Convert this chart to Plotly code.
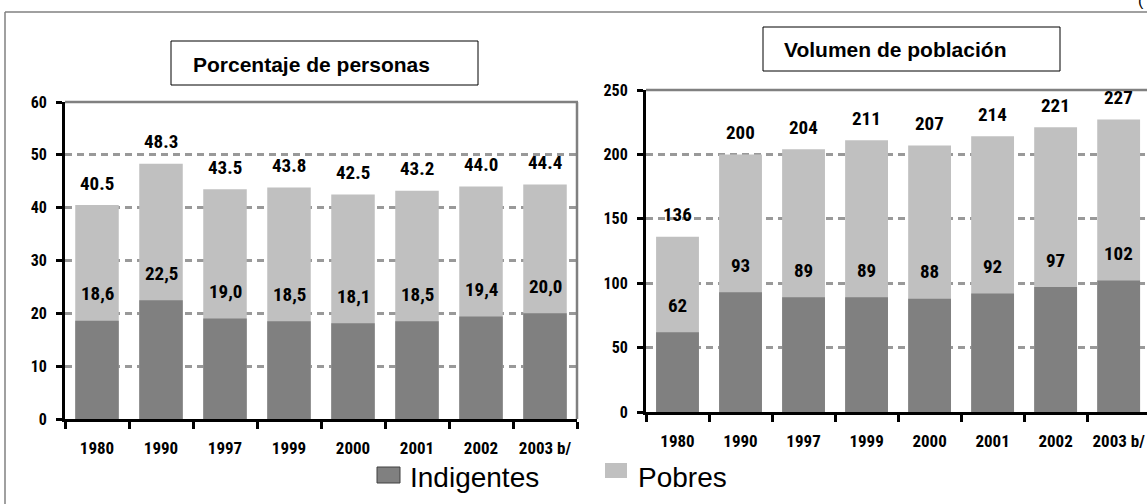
import plotly.graph_objects as go

W, H = 1147, 504

categories = ["1980", "1990", "1997", "1999", "2000", "2001", "2002", "2003 b/"]
pct_pobres = [40.5, 48.3, 43.5, 43.8, 42.5, 43.2, 44.0, 44.4]
pct_indigentes = [18.6, 22.5, 19.0, 18.5, 18.1, 18.5, 19.4, 20.0]
vol_pobres = [136, 200, 204, 211, 207, 214, 221, 227]
vol_indigentes = [62, 93, 89, 89, 88, 92, 97, 102]

C_POB = "#c0c0c0"
C_IND = "#808080"
NARROW = "Liberation Sans Narrow, Noto Sans Condensed, Roboto Condensed, DejaVu Sans Condensed, sans-serif"
SANS = "Liberation Sans, Arial, sans-serif"


def px(x):
    return x / W


def py(y):
    return 1 - y / H


fig = go.Figure()

for xa, ya, pob, ind in [("x", "y", pct_pobres, pct_indigentes),
                         ("x2", "y2", vol_pobres, vol_indigentes)]:
    fig.add_trace(go.Bar(x=categories, y=pob, name="Pobres", marker_color=C_POB,
                         marker_line_width=0, width=0.68, xaxis=xa, yaxis=ya,
                         showlegend=False))
    fig.add_trace(go.Bar(x=categories, y=ind, name="Indigentes", marker_color=C_IND,
                         marker_line_width=0, width=0.68, xaxis=xa, yaxis=ya,
                         showlegend=False))

annotations = []
lab_font = dict(family=NARROW, size=19, color="black", weight=700)
for k, (p, i) in enumerate(zip(pct_pobres, pct_indigentes)):
    annotations.append(dict(x=k, y=p, xref="x", yref="y", text=f"{p:.1f}",
                            xanchor="center", yanchor="middle",
                            showarrow=False, yshift=22, font=lab_font))
    annotations.append(dict(x=k, y=i, xref="x", yref="y",
                            text=f"{i:.1f}".replace(".", ","),
                            xanchor="center", yanchor="middle",
                            showarrow=False, yshift=27, font=lab_font))
for k, (p, i) in enumerate(zip(vol_pobres, vol_indigentes)):
    annotations.append(dict(x=k, y=p, xref="x2", yref="y2", text=f"{p}",
                            xanchor="center", yanchor="middle",
                            showarrow=False, yshift=22, font=lab_font))
    annotations.append(dict(x=k, y=i, xref="x2", yref="y2", text=f"{i}",
                            xanchor="center", yanchor="middle",
                            showarrow=False, yshift=27, font=lab_font))

# titles in boxes
annotations.append(dict(x=px(311), y=py(64), xref="paper", yref="paper",
                        xanchor="center", yanchor="middle",
                        text="<b>Porcentaje de personas</b>", showarrow=False,
                        font=dict(family=SANS, size=21, color="black")))
annotations.append(dict(x=px(895), y=py(50), xref="paper", yref="paper",
                        xanchor="center", yanchor="middle",
                        text="<b>Volumen de población</b>", showarrow=False,
                        font=dict(family=SANS, size=21, color="black")))
# legend texts
annotations.append(dict(x=px(408), y=py(477), xref="paper", yref="paper",
                        xanchor="left", yanchor="middle", text="Indigentes", showarrow=False,
                        font=dict(family=SANS, size=28, color="black")))
annotations.append(dict(x=px(636), y=py(477), xref="paper", yref="paper",
                        xanchor="left", yanchor="middle", text="Pobres", showarrow=False,
                        font=dict(family=SANS, size=28, color="black")))
annotations.append(dict(x=px(1136), y=py(0), xref="paper", yref="paper",
                        xanchor="left", yanchor="middle", text="(", showarrow=False,
                        font=dict(family=SANS, size=16, color="black")))

shapes = [
    # outer frame
    dict(type="line", xref="paper", yref="paper", x0=px(5), x1=1.01, y0=py(12), y1=py(12),
         line=dict(color="#808080", width=1.5)),
    dict(type="line", xref="paper", yref="paper", x0=px(5), x1=px(5), y0=py(12), y1=-0.01,
         line=dict(color="#808080", width=1.5)),
    # title boxes
    dict(type="rect", xref="paper", yref="paper", x0=px(171), x1=px(478), y0=py(85), y1=py(41),
         line=dict(color="black", width=1), fillcolor="white", layer="below"),
    dict(type="rect", xref="paper", yref="paper", x0=px(763), x1=px(1060), y0=py(71), y1=py(27),
         line=dict(color="black", width=1), fillcolor="white", layer="below"),
    # plot borders (top/right gray)
    dict(type="line", xref="paper", yref="paper", x0=px(65), x1=px(578), y0=py(102), y1=py(102),
         line=dict(color="#808080", width=2.5)),
    dict(type="line", xref="paper", yref="paper", x0=px(577), x1=px(577), y0=py(102), y1=py(419),
         line=dict(color="#808080", width=2.5)),
    dict(type="line", xref="paper", yref="paper", x0=px(646), x1=1.01, y0=py(90), y1=py(90),
         line=dict(color="#808080", width=2.5)),
    # legend swatches
    dict(type="rect", xref="paper", yref="paper", x0=px(377), x1=px(400), y0=py(483), y1=py(467),
         line=dict(color="#404040", width=1), fillcolor=C_IND),
    dict(type="rect", xref="paper", yref="paper", x0=px(605), x1=px(627), y0=py(478), y1=py(463),
         line=dict(width=0), fillcolor=C_POB),
]

xtick_font = dict(family=NARROW, size=17, color="black", weight=700)
ytick_font = dict(family=NARROW, size=16, color="black", weight=700)
xcommon = dict(type="category", range=[-0.5, 7.5], tickson="boundaries", ticks="outside",
               ticklen=7, tickwidth=2.5, tickcolor="black", showline=True, linecolor="black",
               linewidth=3, showgrid=False, tickfont=xtick_font, ticklabelstandoff=12)
ycommon = dict(ticks="outside", ticklen=6, tickwidth=2.5, tickcolor="black", showline=True,
               linecolor="black", linewidth=3, showgrid=True, gridcolor="#999999",
               griddash="7px,5px", gridwidth=2.5, zeroline=False, tickfont=ytick_font,
               ticklabelstandoff=6)

fig.update_layout(
    width=W, height=H,
    margin=dict(l=0, r=0, t=0, b=0, autoexpand=False),
    paper_bgcolor="white", plot_bgcolor="white",
    barmode="overlay",
    showlegend=False,
    xaxis=dict(domain=[px(65), px(577)], anchor="y", **xcommon),
    yaxis=dict(domain=[py(419), py(102)], anchor="x", range=[0, 60], dtick=10, **ycommon),
    xaxis2=dict(domain=[px(646), 1.0], anchor="y2", **{**xcommon, "range": [-0.5, 7.45]}),
    yaxis2=dict(domain=[py(412), py(90)], anchor="x2", range=[0, 250], dtick=50, **ycommon),
    annotations=annotations,
    shapes=shapes,
)

fig.write_html(
    "out.html",
    config={"displayModeBar": False},
    post_script="document.body.style.margin='0';document.body.style.overflow='hidden';",
)
